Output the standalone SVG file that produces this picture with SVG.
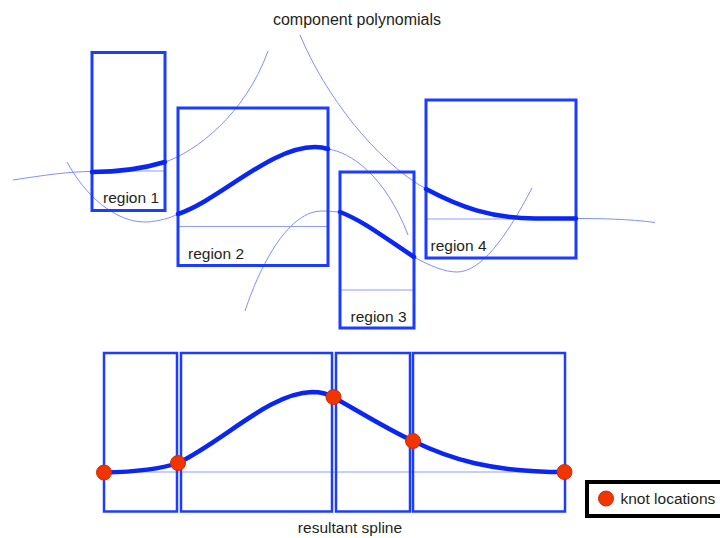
<svg xmlns="http://www.w3.org/2000/svg" width="720" height="538" viewBox="0 0 720 538">
<style>
.box{fill:none;stroke:#1c3cff;stroke-width:3}
.bbox{fill:none;stroke:#1c3cff;stroke-width:2.5}
.thin{fill:none;stroke:#7f8fff;stroke-width:1}
.axis{fill:none;stroke:#8e9cff;stroke-width:1}
.thick{fill:none;stroke:#0a26f2;stroke-width:4.5;stroke-linecap:round}
.knot{fill:#f03500;stroke:#d02a00;stroke-width:1}
text{font-family:"Liberation Sans",Arial,sans-serif;fill:#231f20}
.lbl{font-size:15.5px}
.ttl{font-size:16px}
</style>
<rect width="720" height="538" fill="#ffffff"/>
<text class="ttl" x="357" y="25" text-anchor="middle">component polynomials</text>

<g id="connectors">
  <!-- region 1 polynomial -->
  <path class="thin" d="M13,180 C45,175 70,171.5 92,171.5"/>
  <path class="thin" d="M165,162 C195,152 245,115 268,51"/>
  <!-- region 2 polynomial -->
  <path class="thin" d="M67,162 C85,195 115,223 147,222 C160,221 170,218 178,214"/>
  <path class="thin" d="M328,149 C350,152 385,175 408,235"/>
  <!-- region 3 polynomial -->
  <path class="thin" d="M245,311 C262,260 290,211 322,211 C330,211 335,212 340,212"/>
  <path class="thin" d="M414,257 C430,266 445,272 457,272 C480,272 505,240 532,188"/>
  <!-- region 4 polynomial -->
  <path class="thin" d="M300,35 C325,95 375,160 426,189"/>
  <path class="thin" d="M576,218.5 C600,218.5 630,219 655,222.5"/>
</g>

<g id="region1">
  <line class="axis" x1="92" y1="171" x2="165" y2="171"/>
  <rect class="box" x="92" y="52.5" width="73" height="158"/>
  <path class="thick" d="M92,172 C120,172 145,168 165,162"/>
  <text class="lbl" x="103" y="203">region 1</text>
</g>
<g id="region2">
  <line class="axis" x1="178" y1="226.5" x2="328" y2="226.5"/>
  <rect class="box" x="178" y="108" width="150" height="157.5"/>
  <path class="thick" d="M178,214 C220,200 270,147 315,147 C320,147 325,148 328,149"/>
  <text class="lbl" x="188" y="259">region 2</text>
</g>
<g id="region3">
  <line class="axis" x1="340" y1="290" x2="414" y2="290"/>
  <rect class="box" x="340" y="172" width="74" height="156"/>
  <path class="thick" d="M340,212 C362,220 388,240 414,257"/>
  <text class="lbl" x="350.5" y="322">region 3</text>
</g>
<g id="region4">
  <line class="axis" x1="426" y1="219" x2="576" y2="219"/>
  <rect class="box" x="426" y="100" width="150" height="158"/>
  <path class="thick" d="M426,189 C460,207 490,218 535,218.5 L576,218.5"/>
  <text class="lbl" x="430.5" y="251">region 4</text>
</g>

<g id="spline">
  <line class="axis" x1="104" y1="472" x2="565" y2="472"/>
  <rect class="bbox" x="104" y="353" width="73" height="158.5"/>
  <rect class="bbox" x="181" y="353" width="151" height="158.5"/>
  <rect class="bbox" x="336" y="353" width="74" height="158.5"/>
  <rect class="bbox" x="413" y="353" width="152" height="158.5"/>
  <path class="thick" d="M104,472.5 C130,472 158,470 178,463 C225,440 270,393 312,392 C322,392 328,394 333,397 C360,412 385,428 413,441 C450,459 490,472 565,472"/>
  <circle class="knot" cx="104" cy="472.5" r="7.5"/>
  <circle class="knot" cx="178" cy="463" r="7.5"/>
  <circle class="knot" cx="333.5" cy="397" r="7.5"/>
  <circle class="knot" cx="413" cy="441" r="7.5"/>
  <circle class="knot" cx="564.5" cy="472" r="7.5"/>
  <text class="lbl" x="350" y="533" text-anchor="middle">resultant spline</text>
</g>

<g id="legend">
  <rect x="587" y="482" width="140" height="34" fill="#ffffff" stroke="#000000" stroke-width="4"/>
  <circle class="knot" cx="606" cy="498.5" r="7.5"/>
  <text class="lbl" x="620.5" y="504">knot locations</text>
</g>
</svg>
